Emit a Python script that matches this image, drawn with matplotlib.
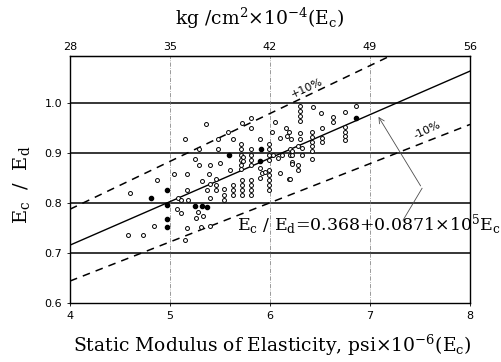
import matplotlib
matplotlib.use("Agg")
import matplotlib.pyplot as plt
import numpy as np

plt.rcParams['font.family'] = ['DejaVu Serif']
plt.rcParams['mathtext.fontset'] = 'dejavuserif'

# open circles (Ec psi x 10^-6, Ec/Ed)
open_x = [4.58, 4.73, 4.84, 4.60, 4.87, 5.04, 5.17, 5.15, 5.36, 5.29, 5.25, 5.29,
          5.40, 5.48, 5.48, 5.32, 5.39, 5.40, 5.17, 5.37, 5.46, 5.08, 5.11, 5.18,
          5.07, 5.11, 5.28, 5.33, 5.26, 5.17, 5.31, 5.40, 5.15,
          5.81, 5.72, 5.81, 5.58, 5.63, 5.90, 6.02, 6.05, 6.16, 6.19, 6.17, 6.10, 6.21,
          5.71, 5.71, 5.71, 5.71, 5.71, 5.71, 5.73, 5.73,
          5.81, 5.81, 5.81, 5.81,
          5.99, 5.99, 5.99, 5.99, 6.03, 6.08, 6.12, 6.20, 6.20, 6.22, 6.28,
          5.50, 5.60, 5.90, 5.92, 5.90, 5.95,
          5.99, 5.99, 5.99, 5.99, 5.99, 6.10, 6.19,
          5.46, 5.46, 5.54, 5.54, 5.54, 5.63, 5.63, 5.63,
          5.72, 5.72, 5.72, 5.72, 5.81, 5.81, 5.81, 5.81, 5.40,
          6.30, 6.30, 6.30, 6.30, 6.43, 6.51, 6.63, 6.63, 6.75, 6.86,
          6.52, 6.52, 6.52, 6.75, 6.75, 6.75, 6.75, 6.30, 6.30,
          6.42, 6.42, 6.42, 6.42, 6.42, 6.42, 6.32, 6.32, 6.22, 6.22,
          6.28, 6.28, 6.22, 6.20]
open_y = [0.737, 0.737, 0.755, 0.821, 0.847, 0.859, 0.859, 0.928, 0.958, 0.908, 0.889, 0.877,
          0.877, 0.928, 0.908, 0.845, 0.859, 0.839, 0.827, 0.827, 0.827, 0.811, 0.807, 0.807,
          0.789, 0.781, 0.783, 0.775, 0.771, 0.751, 0.753, 0.755, 0.727,
          0.970, 0.960, 0.950, 0.942, 0.928, 0.928, 0.942, 0.962, 0.950, 0.942, 0.934, 0.930, 0.928,
          0.918, 0.908, 0.897, 0.887, 0.877, 0.869, 0.893, 0.885,
          0.908, 0.897, 0.887, 0.877,
          0.918, 0.908, 0.897, 0.887, 0.897, 0.891, 0.897, 0.908, 0.897, 0.883, 0.914,
          0.881, 0.867, 0.871, 0.861, 0.851, 0.863,
          0.867, 0.857, 0.847, 0.837, 0.827, 0.861, 0.849,
          0.849, 0.837, 0.829, 0.817, 0.807, 0.837, 0.827, 0.817,
          0.847, 0.837, 0.827, 0.817, 0.847, 0.837, 0.827, 0.817, 0.811,
          0.994, 0.984, 0.974, 0.964, 0.992, 0.980, 0.972, 0.962, 0.982, 0.994,
          0.950, 0.930, 0.922, 0.952, 0.942, 0.934, 0.926, 0.940, 0.928,
          0.942, 0.932, 0.922, 0.914, 0.904, 0.889, 0.910, 0.897, 0.904, 0.897,
          0.877, 0.867, 0.879, 0.849]

# filled dots
solid_x = [4.81, 4.97, 4.97, 4.97, 4.97, 5.25, 5.32, 5.37, 5.91, 5.90, 5.59, 6.86]
solid_y = [0.811, 0.827, 0.797, 0.769, 0.753, 0.795, 0.795, 0.793, 0.908, 0.885, 0.897, 0.970]

# regression line and +/-10 % bounds
line_x = [4, 8]
fit_y = [0.716, 1.065]
upper_y = [0.788, 1.172]
lower_y = [0.644, 0.958]

bottom_ticks = [4, 5, 6, 7, 8]
top_ticks = [28, 35, 42, 49, 56]
y_ticks = [0.6, 0.7, 0.8, 0.9, 1.0]

fig = plt.figure(figsize=(5.02, 3.62), dpi=100)
ax = fig.add_axes([0.1394, 0.163, 0.797, 0.682])

for yv in [0.7, 0.8, 0.9, 1.0]:
    ax.axhline(yv, color='black', lw=1.1, zorder=1)
for xv in [5, 6, 7]:
    ax.axvline(xv, color='0.45', lw=0.5, ls=(0, (6, 2, 1, 2)), zorder=1)

ax.plot(line_x, fit_y, color='black', lw=1.0, zorder=2)
ax.plot(line_x, upper_y, color='black', lw=1.1, ls=(0, (5, 4)), zorder=2)
ax.plot(line_x, lower_y, color='black', lw=1.1, ls=(0, (5, 4)), zorder=2)

ax.scatter(open_x, open_y, s=8, facecolors='white', edgecolors='black', linewidths=0.7, zorder=3)
ax.scatter(solid_x, solid_y, s=9, color='black', zorder=4)

ax.text(6.37, 1.03, '+10%', rotation=25, ha='center', va='center', fontsize=8,
        family='DejaVu Sans')
ax.text(7.57, 0.947, '-10%', rotation=25, ha='center', va='center', fontsize=8,
        family='DejaVu Sans')

ax.plot([7.33, 7.52], [0.766, 0.83], color='0.3', lw=0.6)
ax.annotate('', xy=(7.07, 0.978), xytext=(7.52, 0.83),
            arrowprops=dict(arrowstyle='->', color='0.3', lw=0.6))
ax.text(5.67, 0.757, r'E$_\mathrm{c}$ / E$_\mathrm{d}$=0.368+0.0871×10$^5$E$_\mathrm{c}$',
        fontsize=12.5, ha='left', va='center', clip_on=False)

ax.set_xlim(4, 8)
ax.set_ylim(0.6, 1.095)
ax.set_xticks(bottom_ticks)
ax.set_yticks(y_ticks)
ax.set_yticklabels(['0.6', '0.7', '0.8', '0.9', '1.0'])
ax.tick_params(labelsize=8, length=2, width=0.6)
for lab in ax.get_xticklabels() + ax.get_yticklabels():
    lab.set_family('DejaVu Sans')

top = ax.secondary_xaxis('top', functions=(lambda x: x * 7, lambda x: x / 7))
top.set_xticks(top_ticks)
top.tick_params(labelsize=8, length=0, pad=3)
for lab in top.get_xticklabels():
    lab.set_family('DejaVu Sans')

for sp in ax.spines.values():
    sp.set_linewidth(1.0)

fig.text(260 / 502, 1 - 18 / 362, r'kg /cm$^2$×10$^{-4}$(E$_\mathrm{c}$)',
         ha='center', va='center', fontsize=13.5)
fig.text(272 / 502, 1 - 345 / 362, r'Static Modulus of Elasticity, psi×10$^{-6}$(E$_\mathrm{c}$)',
         ha='center', va='center', fontsize=13.5)
fig.text(22 / 502, 1 - 185 / 362, r'E$_\mathrm{c}$  /  E$_\mathrm{d}$', rotation=90,
         ha='center', va='center', fontsize=14)

fig.savefig('out.png', dpi=100)
